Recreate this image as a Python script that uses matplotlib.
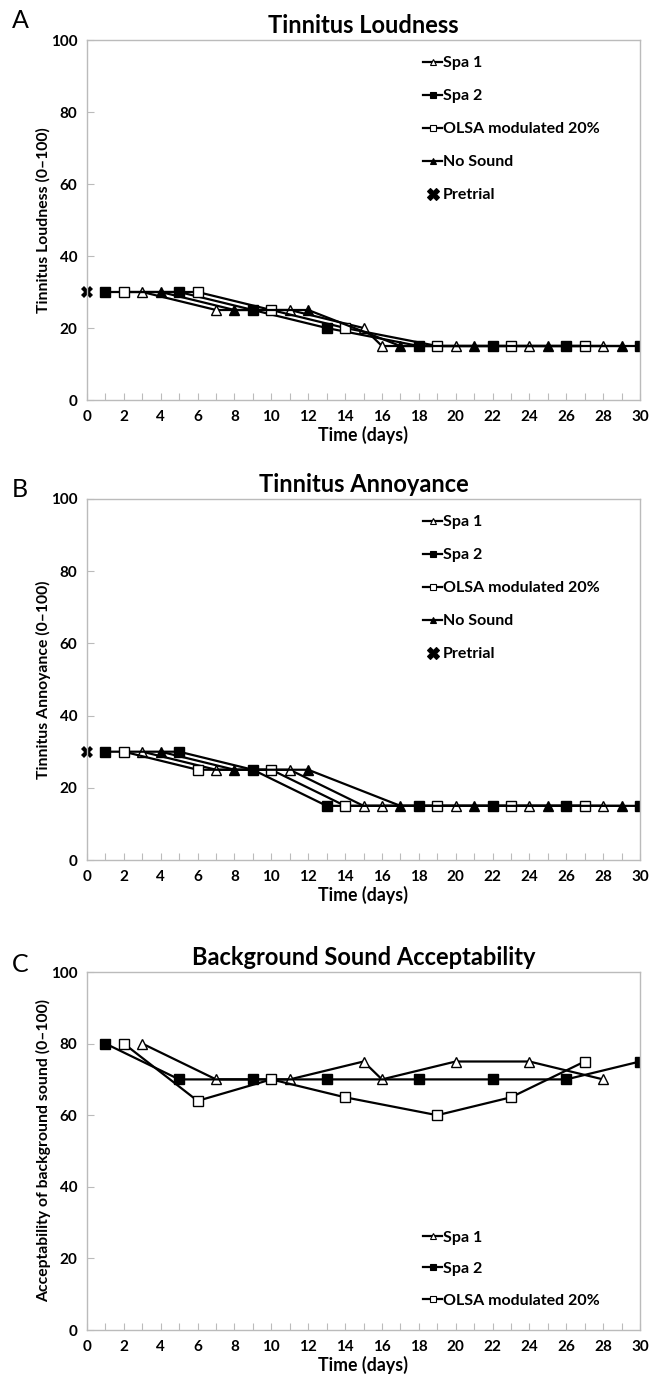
import matplotlib
matplotlib.use("Agg")
import matplotlib.pyplot as plt
from matplotlib.ticker import MultipleLocator
from matplotlib.lines import Line2D

plt.rcParams['font.family'] = ['Lato', 'DejaVu Sans']

# ---- Panel A: Tinnitus Loudness ----
a_spa1_x = [3, 7, 11, 15, 16, 20, 24, 28]
a_spa1_y = [30, 25, 25, 20, 15, 15, 15, 15]
a_spa2_x = [1, 5, 9, 13, 18, 22, 26, 30]
a_spa2_y = [30, 30, 25, 20, 15, 15, 15, 15]
a_olsa_x = [2, 6, 10, 14, 19, 23, 27]
a_olsa_y = [30, 30, 25, 20, 15, 15, 15]
a_none_x = [4, 8, 12, 17, 21, 25, 29]
a_none_y = [30, 25, 25, 15, 15, 15, 15]
a_pre_x = [0]
a_pre_y = [30]

# ---- Panel B: Tinnitus Annoyance ----
b_spa1_x = [3, 7, 11, 15, 16, 20, 24, 28]
b_spa1_y = [30, 25, 25, 15, 15, 15, 15, 15]
b_spa2_x = [1, 5, 9, 13, 18, 22, 26, 30]
b_spa2_y = [30, 30, 25, 15, 15, 15, 15, 15]
b_olsa_x = [2, 6, 10, 14, 19, 23, 27]
b_olsa_y = [30, 25, 25, 15, 15, 15, 15]
b_none_x = [4, 8, 12, 17, 21, 25, 29]
b_none_y = [30, 25, 25, 15, 15, 15, 15]
b_pre_x = [0]
b_pre_y = [30]

# ---- Panel C: Background Sound Acceptability ----
c_spa1_x = [3, 7, 11, 15, 16, 20, 24, 28]
c_spa1_y = [80, 70, 70, 75, 70, 75, 75, 70]
c_spa2_x = [1, 5, 9, 13, 18, 22, 26, 30]
c_spa2_y = [80, 70, 70, 70, 70, 70, 70, 75]
c_olsa_x = [2, 6, 10, 14, 19, 23, 27]
c_olsa_y = [80, 64, 70, 65, 60, 65, 75]

labels = ["Spa 1", "Spa 2", "OLSA modulated 20%", "No Sound", "Pretrial"]
titles = ["Tinnitus Loudness", "Tinnitus Annoyance", "Background Sound Acceptability"]
ylabels = ["Tinnitus Loudness (0\u2013100)", "Tinnitus Annoyance (0\u2013100)",
           "Acceptability of background sound (0\u2013100)"]
panel_letters = ["A", "B", "C"]
xlabel = "Time (days)"

fig = plt.figure(figsize=(6.5, 13.85), dpi=100)
W, H = 650, 1385
def rect(l, t, r, b):
    return [l / W, 1 - b / H, (r - l) / W, (b - t) / H]

ax_rects = [rect(87, 40, 640, 400), rect(87, 499, 640, 860), rect(87, 972, 640, 1330)]
letter_y = [20, 490, 965]

mk = dict(markersize=6.5, linewidth=1.6, color='black', markeredgewidth=1.0)

def style_axes(ax, title, ylab):
    ax.set_xlim(0, 30)
    ax.set_ylim(0, 100)
    ax.xaxis.set_major_locator(MultipleLocator(2))
    ax.xaxis.set_minor_locator(MultipleLocator(1))
    ax.yaxis.set_major_locator(MultipleLocator(20))
    for s in ax.spines.values():
        s.set_color('#bbbbbb')
        s.set_linewidth(1.0)
    ax.tick_params(axis='both', which='both', direction='in', colors='#bbbbbb',
                   labelcolor='black', labelsize=11, width=0.8)
    ax.tick_params(axis='x', which='major', length=5, pad=7)
    ax.tick_params(axis='x', which='minor', length=5)
    ax.tick_params(axis='y', which='major', length=5, pad=7)
    for lab in ax.get_xticklabels() + ax.get_yticklabels():
        lab.set_fontweight('bold')
    ax.set_title(title, fontsize=17, fontweight='bold', pad=5)
    ax.set_xlabel(xlabel, fontsize=12.8, fontweight='bold', labelpad=1.5)
    ax.set_ylabel(ylab, fontsize=11.3, fontweight='bold', labelpad=0)

def proxy(marker, face, size=4.5, line=True):
    return Line2D([], [], color='black', marker=marker, markerfacecolor=face,
                  markersize=size, linewidth=1.6 if line else 0,
                  linestyle='-' if line else 'none', markeredgewidth=0.8)

panels = [
    (a_spa1_x, a_spa1_y, a_spa2_x, a_spa2_y, a_olsa_x, a_olsa_y, a_none_x, a_none_y, a_pre_x, a_pre_y),
    (b_spa1_x, b_spa1_y, b_spa2_x, b_spa2_y, b_olsa_x, b_olsa_y, b_none_x, b_none_y, b_pre_x, b_pre_y),
]

for i in range(3):
    ax = fig.add_axes(ax_rects[i])
    if i < 2:
        s1x, s1y, s2x, s2y, ox, oy, nx, ny, px, py = panels[i]
    else:
        s1x, s1y, s2x, s2y, ox, oy = c_spa1_x, c_spa1_y, c_spa2_x, c_spa2_y, c_olsa_x, c_olsa_y
    ax.plot(s1x, s1y, marker='^', markerfacecolor='white', **mk)
    ax.plot(s2x, s2y, marker='s', markerfacecolor='black', **mk)
    ax.plot(ox, oy, marker='s', markerfacecolor='white', **mk)
    handles = [proxy('^', 'white'), proxy('s', 'black'), proxy('s', 'white')]
    if i < 2:
        ax.plot(nx, ny, marker='^', markerfacecolor='black', **mk)
        ax.plot(px, py, marker='X', linestyle='none', color='black',
                markersize=8, markeredgewidth=0, clip_on=False)
        handles += [proxy('^', 'black'), proxy('X', 'black', size=8, line=False)]
    style_axes(ax, titles[i], ylabels[i])
    n = len(handles)
    if i < 2:
        ax.legend(handles=handles, labels=labels[:n], loc='upper left',
                  bbox_to_anchor=(0.596, 0.973),
                  frameon=False, handlelength=1.2, handletextpad=0.05,
                  labelspacing=1.18, borderaxespad=0,
                  prop={'weight': 'bold', 'size': 11.5})
    else:
        ax.legend(handles=handles, labels=labels[:n], loc='lower left',
                  bbox_to_anchor=(0.596, 0.045),
                  frameon=False, handlelength=1.2, handletextpad=0.05,
                  labelspacing=1.08, borderaxespad=0,
                  prop={'weight': 'bold', 'size': 11.5})
    fig.text(12 / W, 1 - letter_y[i] / H, panel_letters[i],
             fontsize=18, ha='left', va='center')

fig.savefig("out.png", dpi=100)
